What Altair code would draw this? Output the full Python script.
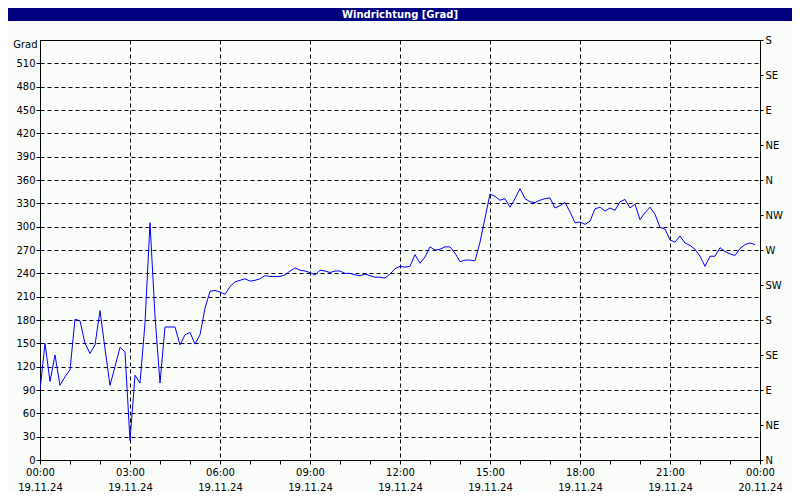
import altair as alt
import pandas as pd

# Wind direction in degrees, every 10 minutes on 19.11.24 (00:00 ... 23:50)
h00 = [90, 150, 101, 135, 96, 107]
h01 = [116, 181, 179, 150, 137, 148]
h02 = [192, 143, 96, 120, 145, 139]
h03 = [25, 109, 99, 176, 305, 185]
h04 = [99, 171, 171, 171, 148, 161]
h05 = [164, 149, 161, 195, 217, 218]
h06 = [216, 213, 223, 229, 231, 233]
h07 = [230, 231, 233, 237, 236, 236]
h08 = [236, 238, 243, 247, 244, 243]
h09 = [241, 238, 244, 243, 241, 243]
h10 = [243, 240, 240, 238, 237, 239]
h11 = [237, 235, 235, 234, 239, 246]
h12 = [249, 248, 249, 264, 253, 261]
h13 = [274, 270, 271, 274, 274, 266]
h14 = [255, 257, 257, 256, 280, 311]
h15 = [342, 339, 334, 336, 325, 336]
h16 = [349, 336, 332, 331, 334, 336]
h17 = [337, 324, 327, 331, 319, 305]
h18 = [306, 303, 307, 323, 325, 320]
h19 = [324, 321, 332, 335, 324, 329]
h20 = [309, 318, 325, 316, 299, 297]
h21 = [283, 280, 288, 279, 276, 271]
h22 = [262, 249, 262, 262, 273, 268]
h23 = [265, 263, 272, 277, 279, 277]

hourly = [h00, h01, h02, h03, h04, h05, h06, h07, h08, h09, h10, h11,
          h12, h13, h14, h15, h16, h17, h18, h19, h20, h21, h22, h23]
minutes = [0, 10, 20, 30, 40, 50]

y_ticks_left = list(range(0, 511, 30))
y_ticks_right = list(range(0, 541, 45))
compass = ["N", "NE", "E", "SE", "S", "SW", "W", "NW", "N", "NE", "E", "SE", "S"]
x_ticks = list(range(0, 25))
title_text = "Windrichtung [Grad]"

rows = []
for hr, vals in enumerate(hourly):
    for m, v in zip(minutes, vals):
        rows.append({"t": hr + m / 60.0, "deg": v})
df = pd.DataFrame(rows)

FONT = "DejaVu Sans"

x_enc = alt.X(
    "t:Q",
    scale=alt.Scale(domain=[0, 24], nice=False, zero=False),
    axis=alt.Axis(
        values=x_ticks,
        title=None,
        labelExpr=(
            "datum.value % 3 == 0 ? [ (datum.value % 24 < 10 ? '0' : '') + (datum.value % 24) + ':00', "
            "datum.value < 24 ? '19.11.24' : '20.11.24'] : ''"
        ),
        labelLineHeight=15,
        labelPadding=3,
        labelOverlap=False,
        labelFlush=False,
        labelFont=FONT,
        labelFontSize=10,
        labelColor="black",
        tickSize=4,
        tickColor="black",
        domainColor="black",
        grid=True,
        gridColor="black",
        gridDash=[4, 3],
        gridOpacity={"condition": {"test": "datum.value % 3 != 0", "value": 0}, "value": 1},
    ),
)

line = alt.Chart(df).mark_line(color="#0000ff", strokeWidth=1, clip=True).encode(
    x=x_enc,
    y=alt.Y(
        "deg:Q",
        scale=alt.Scale(domain=[0, 540], nice=False),
        axis=alt.Axis(
            values=y_ticks_left,
            title="Grad",
            titleAngle=0,
            titleAlign="right",
            titleBaseline="middle",
            titleX=-3,
            titleY=4,
            titleFont=FONT,
            titleFontSize=10,
            titleFontWeight="normal",
            titleColor="black",
            labelFont=FONT,
            labelFontSize=10,
            labelColor="black",
            labelPadding=1,
            tickSize=4,
            tickColor="black",
            domainColor="black",
            grid=True,
            gridColor="black",
            gridDash=[4, 3],
            gridOpacity=1,
        ),
    ),
)

right = alt.Chart(df).mark_line(strokeOpacity=0).encode(
    x=x_enc,
    y=alt.Y(
        "deg:Q",
        scale=alt.Scale(domain=[0, 540], nice=False),
        axis=alt.Axis(
            orient="right",
            values=y_ticks_right,
            title=None,
            labelExpr="%s[round(datum.value / 45)]" % str(compass),
            labelFont=FONT,
            labelFontSize=10,
            labelColor="black",
            labelPadding=2,
            tickSize=3,
            tickColor="black",
            domainColor="black",
            grid=False,
        ),
    ),
)

bar_df = pd.DataFrame({"title": [title_text]})
title_bar = alt.Chart(bar_df).mark_rect(color="#000080").encode(
    x=alt.value(-32), x2=alt.value(752), y=alt.value(-32), y2=alt.value(-19)
)
title_txt = alt.Chart(bar_df).mark_text(
    color="white", font=FONT, fontSize=10, fontWeight="bold", align="center", baseline="middle"
).encode(x=alt.value(360), y=alt.value(-25.5), text="title:N")

chart = (
    alt.layer(line, right, title_bar, title_txt)
    .resolve_scale(y="independent")
    .properties(
        width=720,
        height=420,
        autosize=alt.AutoSizeParams(type="none"),
        padding={"left": 32, "top": 32, "right": 32, "bottom": 32},
        background="#f9fcf9",
    )
    .configure_view(stroke="black", strokeWidth=1, fill="#f9fcf9")
)

chart.save("out.html", embed_options={"renderer": "svg", "actions": False})
